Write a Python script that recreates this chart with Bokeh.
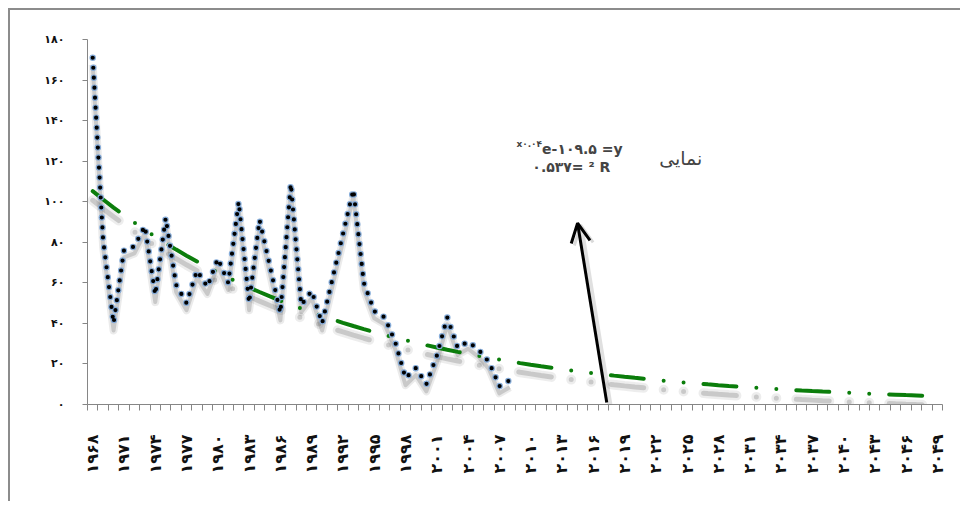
import numpy as np
from bokeh.plotting import figure
from bokeh.models import Range1d, FixedTicker, Arrow, OpenHead, Label
from bokeh.embed import file_html
from bokeh.resources import INLINE

years = list(range(1968, 2009))
values = [171, 81, 40, 76, 78, 88, 54, 92, 59, 50, 66, 58, 72, 60, 100, 50, 91, 68, 45, 109,
          49, 56, 40, 62, 84, 106, 60, 46, 43, 31, 13, 18, 10, 24, 43, 28, 31, 27, 21, 9, 12]

# exponential trendline printed on the chart: y = 109.5 e^(-0.04x), R2 = 0.537
trend_a = 109.5
trend_b = -0.04
trend_years = list(range(1968, 2050))

label_years = list(range(1968, 2050, 3))
y_ticks = list(range(0, 181, 20))

# annotation positions (data units)
arrow_start = (2017.3, 1)
arrow_end = (2014.5, 89.4)
eq_split_x = 2011.1
eq_sup_y = 128.4
eq_main_y = 125.8
r2_pos = (2013.9, 116.9)
name_pos = (2024.4, 121.5)

FA_DIGITS = str.maketrans("0123456789", "۰۱۲۳۴۵۶۷۸۹")


def fa(n):
    return str(n).translate(FA_DIGITS)


FONT = "DejaVu Sans"
AXIS_GREY = "#868686"

p = figure(width=952, height=493, output_backend="svg", toolbar_location=None,
           x_range=Range1d(1967.5, 2049.5), y_range=Range1d(0, 180),
           min_border_left=77, min_border_right=20, min_border_top=29, min_border_bottom=99,
           styles={"margin-top": "8px", "margin-left": "8px",
                   "border-top": "2px solid #8c8c8c", "border-left": "2px solid #8c8c8c"})
p.outline_line_color = None
p.xgrid.visible = False
p.ygrid.visible = False

# y axis
p.yaxis.ticker = FixedTicker(ticks=y_ticks)
p.yaxis.major_label_overrides = {t: fa(t) for t in y_ticks}
p.yaxis.axis_line_color = AXIS_GREY
p.yaxis.major_tick_line_color = AXIS_GREY
p.yaxis.minor_tick_line_color = None
p.yaxis.major_tick_in = 0
p.yaxis.major_tick_out = 5
p.yaxis.major_label_standoff = 18
p.yaxis.major_label_text_font = FONT
p.yaxis.major_label_text_font_size = "11px"
p.yaxis.major_label_text_font_style = "bold"
p.yaxis.major_label_text_color = "#111111"

# x axis: tick marks between the years, labels every third year
p.xaxis.ticker = FixedTicker(ticks=label_years,
                             minor_ticks=[y - 0.5 for y in trend_years] + [trend_years[-1] + 0.5])
p.xaxis.major_label_overrides = {y: fa(y) for y in label_years}
p.xaxis.major_label_orientation = np.pi / 2
p.xaxis.axis_line_color = AXIS_GREY
p.xaxis.major_tick_line_color = None
p.xaxis.major_tick_in = 0
p.xaxis.major_tick_out = 0
p.xaxis.minor_tick_line_color = AXIS_GREY
p.xaxis.minor_tick_line_width = 1
p.xaxis.minor_tick_in = 0
p.xaxis.minor_tick_out = 6
p.xaxis.major_label_standoff = 24
p.xaxis.major_label_text_font = FONT
p.xaxis.major_label_text_font_size = "16px"
p.xaxis.major_label_text_font_style = "bold"
p.xaxis.major_label_text_color = "#111111"

# trendline
tx = np.arange(1, len(trend_years) + 1)
ty = trend_a * np.exp(trend_b * tx)
shadow_dy = 4.5
trend_dash = "33 20 0 20 0 20"
p.line(trend_years, ty - shadow_dy, line_color="#000000", line_alpha=0.07, line_width=10,
       line_dash=trend_dash, line_cap="round")
p.line(trend_years, ty - shadow_dy, line_color="#000000", line_alpha=0.15, line_width=5,
       line_dash=trend_dash, line_cap="round")

# series shadow, a little below the line
vals = np.array(values, dtype=float)
p.line(years, vals - 3.5, line_color="#000000", line_alpha=0.08, line_width=8, line_join="round")
p.line(years, vals - 3.5, line_color="#000000", line_alpha=0.14, line_width=4, line_join="round")

p.line(trend_years, ty, line_color="#0b7d0b", line_width=4, line_dash=trend_dash, line_cap="round")

# series: round dots, black with a light blue rim
p.line(years, values, line_color="#86acd9", line_width=6.5, line_dash="0 10",
       line_cap="round", line_join="round")
p.line(years, values, line_color="#000000", line_width=4.2, line_dash="0 10",
       line_cap="round", line_join="round")

# arrow with a soft shadow
p.add_layout(Arrow(end=OpenHead(size=19, line_width=3, line_color="#000000", line_alpha=0.15),
                   x_start=arrow_start[0] + 0.3, y_start=arrow_start[1] - 1,
                   x_end=arrow_end[0] + 0.3, y_end=arrow_end[1] - 1,
                   line_width=5, line_color="#000000", line_alpha=0.12))
p.add_layout(Arrow(end=OpenHead(size=19, line_width=3, line_color="#000000"),
                   x_start=arrow_start[0], y_start=arrow_start[1],
                   x_end=arrow_end[0], y_end=arrow_end[1],
                   line_width=3, line_color="#000000"))

# trendline equation and name
p.add_layout(Label(x=eq_split_x, y=eq_sup_y, text="x۰.۰۴", text_font=FONT,
                   text_font_size="9px", text_font_style="bold", text_align="right",
                   text_baseline="middle"))
p.add_layout(Label(x=eq_split_x, y=eq_main_y, text="e-۱۰۹.۵ =y", text_font=FONT,
                   text_font_size="14px", text_font_style="bold", text_align="left",
                   text_baseline="middle"))
p.add_layout(Label(x=r2_pos[0], y=r2_pos[1], text="۰.۵۳۷= ² R", text_font=FONT,
                   text_font_size="14px", text_font_style="bold", text_align="center",
                   text_baseline="middle"))
p.add_layout(Label(x=name_pos[0], y=name_pos[1], text="نمایی", text_font=FONT,
                   text_font_size="19px", text_align="center", text_baseline="middle"))

open("out.html", "w").write(file_html(p, INLINE))
